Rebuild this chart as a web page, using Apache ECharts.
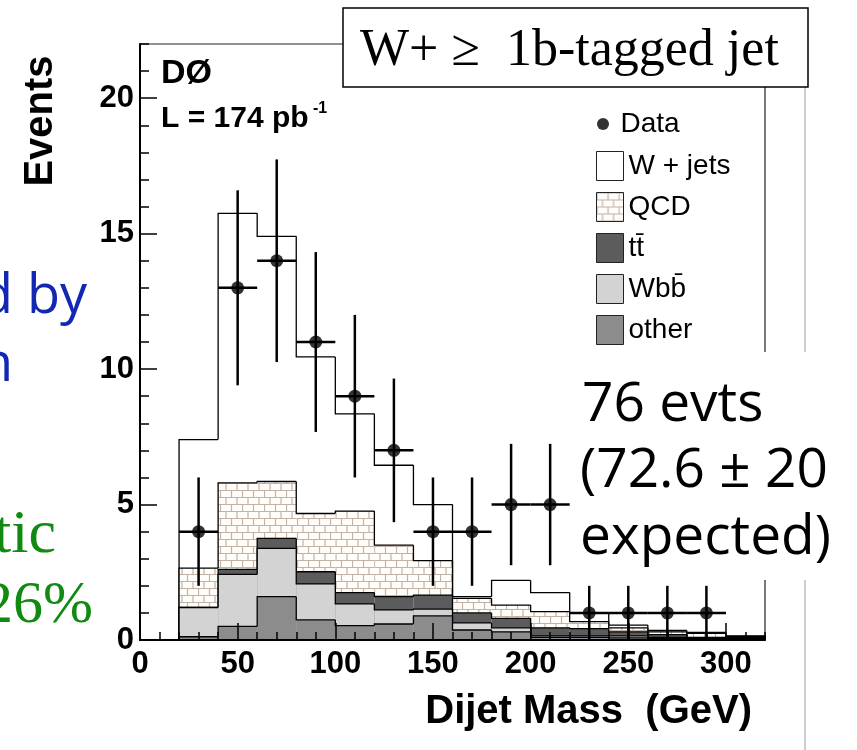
<!DOCTYPE html>
<html><head><meta charset="utf-8">
<script src="https://cdn.jsdelivr.net/npm/echarts@6/dist/echarts.min.js"></script>
<style>html,body{margin:0;padding:0;background:#fff}#c{width:857px;height:750px}</style>
</head><body><div id="c"></div>
<script>
// ---- data ----
const binEdges   = [20,40,60,80,100,120,140,160,180,200,220,240,260,280,300,320];
const otherVals  = [0.12,0.50,1.60,0.74,0.53,0.59,0.89,0.37,0.30,0.10,0.10,0.08,0.05,0.03,0.03];
const wbbVals    = [1.08,1.92,1.78,1.33,0.80,0.52,0.25,0.26,0.15,0.05,0.05,0.07,0.05,0.03,0.03];
const ttVals     = [0.00,0.19,0.37,0.45,0.42,0.49,0.52,0.37,0.35,0.30,0.27,0.15,0.10,0.04,0.04];
const qcdVals    = [1.45,3.19,2.10,2.15,3.01,1.90,1.27,0.54,0.49,0.60,0.26,0.15,0.10,0.15,0.03];
const wjetsVals  = [4.75,9.95,9.05,5.78,3.59,2.95,2.07,0.06,0.91,0.70,0.32,0.10,0.05,0.03,0.02];
const dataMass   = [30,50,70,90,110,130,150,170,190,210,230,250,270,290];
const dataEvents = [4,13,14,11,9,7,4,4,5,5,1,1,1,1];
const dataErr    = [2,3.6,3.74,3.32,3,2.65,2,2,2.24,2.24,1,1,1,1];
const xTickLabels = [0,50,100,150,200,250,300];
const yTickLabels = [0,5,10,15,20];
const layerNames = ['other','Wb\u0062\u0304','t\u0074\u0304','QCD','W + jets'];

// ---- styling ----
const SANS = '"Liberation Sans", Arial, Helvetica, sans-serif';
const SERIF = '"Liberation Serif", "Times New Roman", serif';
const HAND = '"Open Sans", "DejaVu Sans", sans-serif';

const pat = document.createElement('canvas');
pat.width = 22; pat.height = 14;
(function(){
  const g = pat.getContext('2d');
  g.fillStyle = '#fffdfa'; g.fillRect(0,0,22,14);
  g.strokeStyle = '#c2b3a6'; g.lineWidth = 1.2;
  g.beginPath();
  g.moveTo(0,0.5); g.lineTo(22,0.5);
  g.moveTo(0,7.5); g.lineTo(22,7.5);
  g.moveTo(0.5,0); g.lineTo(0.5,7.5);
  g.moveTo(11.5,0); g.lineTo(11.5,7.5);
  g.moveTo(6,7.5); g.lineTo(6,14);
  g.moveTo(17,7.5); g.lineTo(17,14);
  g.stroke();
})();
const qcdFill = {image: pat, repeat: 'repeat'};
const layerFills = ['#8c8c8c','#d3d3d3','#5c5c5c', qcdFill, '#ffffff'];

// cumulative stack
const nb = binEdges.length - 1;
const layers = [otherVals, wbbVals, ttVals, qcdVals, wjetsVals];
const cum = [];
let run = new Array(nb).fill(0);
layers.forEach(L => { run = run.map((v,i)=>v+L[i]); cum.push(run.slice()); });

function layerSeries(k, z){
  const fill = layerFills[k];
  return {
    type: 'custom', name: layerNames[k], z: z,
    coordinateSystem: 'cartesian2d', xAxisIndex: 0, yAxisIndex: 0,
    itemStyle: {color: fill, borderColor: '#000', borderWidth: 1},
    data: binEdges.slice(0,-1).map((lo,i)=>[lo, binEdges[i+1], cum[k][i], i>0?cum[k][i-1]:0, i===nb-1?1:0]),
    encode: {x:[0,1], y:[2]},
    silent: true,
    renderItem: function(params, api){
      const lo = api.value(0), hi = api.value(1), top = api.value(2), prev = api.value(3), last = api.value(4);
      const p0 = api.coord([lo,0]), p1 = api.coord([hi,top]);
      const pts = [api.coord([lo,prev]), api.coord([lo,top]), p1];
      if (last) pts.push(api.coord([hi,0]));
      return {type:'group', children:[
        {type:'rect', shape:{x:p0[0], y:p1[1], width:p1[0]-p0[0], height:p0[1]-p1[1]}, style:{fill: fill}},
        {type:'polyline', shape:{points: pts}, style:{stroke:'#000', lineWidth:1.3, fill:null}}
      ]};
    }
  };
}

const series = [
  layerSeries(4, 2), layerSeries(3, 3), layerSeries(2, 4), layerSeries(1, 5), layerSeries(0, 6),
  {
    type:'custom', name:'Data uncertainty', z: 10, silent: true,
    xAxisIndex: 0, yAxisIndex: 0,
    data: dataMass.map((m,i)=>[m, dataEvents[i], dataErr[i], binEdges[i], binEdges[i+1]]),
    encode:{x:0, y:1},
    renderItem: function(params, api){
      const y = api.value(1), e = api.value(2), lo = api.value(3), hi = api.value(4);
      const a = api.coord([lo,y]), b = api.coord([hi,y]);
      const c = api.coord([api.value(0), Math.max(0,y-e)]), d = api.coord([api.value(0), y+e]);
      return {type:'group', children:[
        {type:'line', shape:{x1:a[0],y1:a[1],x2:b[0],y2:b[1]}, style:{stroke:'#000', lineWidth:2.5}},
        {type:'line', shape:{x1:c[0],y1:c[1],x2:d[0],y2:d[1]}, style:{stroke:'#000', lineWidth:2.5}}
      ]};
    }
  },
  {
    type:'scatter', name:'Data', z: 11, symbol:'circle', symbolSize: 13,
    xAxisIndex: 0, yAxisIndex: 0,
    itemStyle:{color:'#000'},
    data: dataMass.map((m,i)=>[m, dataEvents[i]])
  }
];

const labelStyle = {fontFamily: SANS, fontWeight:'bold', fontSize: 31, color:'#000'};
const gridBox = {left:140, right:92, top:44, bottom:110};

const option = {
  animation: false,
  backgroundColor: '#fff',
  grid: [
    Object.assign({show:true, borderColor:'#222', borderWidth:1.2, backgroundColor:'transparent', outerBoundsMode:'none'}, gridBox),
    Object.assign({show:false, outerBoundsMode:'none'}, gridBox)
  ],
  xAxis: [
    {type:'value', gridIndex:0, min:0, max:320, interval:50, position:'bottom', z:20,
     axisLine:{show:true, onZero:false, lineStyle:{color:'#000', width:2}},
     axisTick:{show:true, inside:true, length:17, lineStyle:{color:'#000', width:1.5}},
     axisLabel:Object.assign({margin:9, showMaxLabel:false, formatter: v => xTickLabels.indexOf(v)>=0 ? String(v) : ''}, labelStyle),
     splitLine:{show:false}},
    {type:'value', gridIndex:1, min:0, max:320, interval:10, position:'bottom', z:20,
     axisLine:{show:false, onZero:false}, axisLabel:{show:false}, splitLine:{show:false},
     axisTick:{show:true, inside:true, length:8, lineStyle:{color:'#000', width:1.5}}}
  ],
  yAxis: [
    {type:'value', gridIndex:0, min:0, max:22, interval:5, position:'left', z:20,
     axisLine:{show:true, onZero:false, lineStyle:{color:'#000', width:2}},
     axisTick:{show:true, inside:true, length:17, lineStyle:{color:'#000', width:1.5}},
     axisLabel:Object.assign({margin:6, showMaxLabel:false, formatter: v => yTickLabels.indexOf(v)>=0 ? String(v) : ''}, labelStyle),
     splitLine:{show:false}},
    {type:'value', gridIndex:1, min:0, max:22, interval:1, position:'left', z:20,
     axisLine:{show:false, onZero:false}, axisLabel:{show:false}, splitLine:{show:false},
     axisTick:{show:true, inside:true, length:9, lineStyle:{color:'#000', width:1.5}}}
  ],
  legend: [
    {orient:'vertical', left:592, top:105, itemWidth:25, itemHeight:12, itemGap:11,
     icon:'circle', data:['Data'], selectedMode:false,
     textStyle:{fontFamily:SANS, fontSize:28, color:'#000'}},
    {orient:'vertical', left:591, top:146, itemWidth:27, itemHeight:29, itemGap:11,
     icon:'rect', selectedMode:false,
     data:[
       {name:'W + jets', itemStyle:{color:'#ffffff', borderColor:'#222', borderWidth:1}},
       {name:'QCD', itemStyle:{color:qcdFill, borderColor:'#222', borderWidth:1}},
       {name:layerNames[2], itemStyle:{color:'#5c5c5c', borderColor:'#222', borderWidth:1}},
       {name:layerNames[1], itemStyle:{color:'#d3d3d3', borderColor:'#222', borderWidth:1}},
       {name:'other', itemStyle:{color:'#8c8c8c', borderColor:'#222', borderWidth:1}}
     ],
     textStyle:{fontFamily:SANS, fontSize:28, color:'#000'}}
  ],
  series: series,
  graphic: [
    // slide gray rule
    {type:'line', z:1, shape:{x1:805, y1:87, x2:805, y2:750}, style:{stroke:'#bdbdbd', lineWidth:1.5}},
    // figure annotations
    {type:'text', z:30, x:161, y:74, style:{text:'DØ', font:'bold 34px '+SANS, fill:'#000', verticalAlign:'middle'}},
    {type:'text', z:30, x:161, y:119, style:{text:'L = 174 pb', font:'bold 30px '+SANS, fill:'#000', verticalAlign:'middle'}},
    {type:'text', z:30, x:313, y:109, style:{text:'-1', font:'bold 16px '+SANS, fill:'#000', verticalAlign:'middle'}},
    {type:'text', z:30, x:41, y:121, rotation:Math.PI/2, style:{text:'Events', font:'bold 40px '+SANS, fill:'#000', align:'center', verticalAlign:'middle'}},
    {type:'text', z:30, x:752, y:712, style:{text:'Dijet Mass  (GeV)', font:'bold 40px '+SANS, fill:'#000', align:'right', verticalAlign:'middle'}},
    // slide title box
    {type:'rect', z:50, shape:{x:343, y:8, width:465, height:79}, style:{fill:'#fff', stroke:'#000', lineWidth:1.5}},
    {type:'text', z:51, x:360, y:51, style:{text:'W+ \u2265  1b-tagged jet', font:'52px '+SERIF, fill:'#000', verticalAlign:'middle'}},
    // slide counting box
    {type:'rect', z:50, shape:{x:572, y:352, width:285, height:228}, style:{fill:'#fff'}},
    {type:'text', z:51, x:582, y:405, style:{text:'76 evts', font:'55px '+HAND, fill:'#000', verticalAlign:'middle'}},
    {type:'text', z:51, x:580, y:471, style:{text:'(72.6 \u00b1 20', font:'55px '+HAND, fill:'#000', verticalAlign:'middle'}},
    {type:'text', z:51, x:580, y:538, style:{text:'expected)', font:'55px '+HAND, fill:'#000', verticalAlign:'middle'}},
    // slide text cut at left edge
    {type:'text', z:30, x:-20, y:298, style:{text:'d by', font:'54px '+HAND, fill:'#1228b4', verticalAlign:'middle'}},
    {type:'text', z:30, x:-20, y:366, style:{text:'n', font:'54px '+HAND, fill:'#1228b4', verticalAlign:'middle'}},
    {type:'text', z:30, x:-6, y:536, style:{text:'tic', font:'62px '+SERIF, fill:'#108a10', verticalAlign:'middle'}},
    {type:'text', z:30, x:-17, y:606, style:{text:'26%', font:'60px '+SERIF, fill:'#108a10', verticalAlign:'middle'}}
  ]
};
const chart = echarts.init(document.getElementById('c'));
chart.setOption(option);
</script>
</body></html>
